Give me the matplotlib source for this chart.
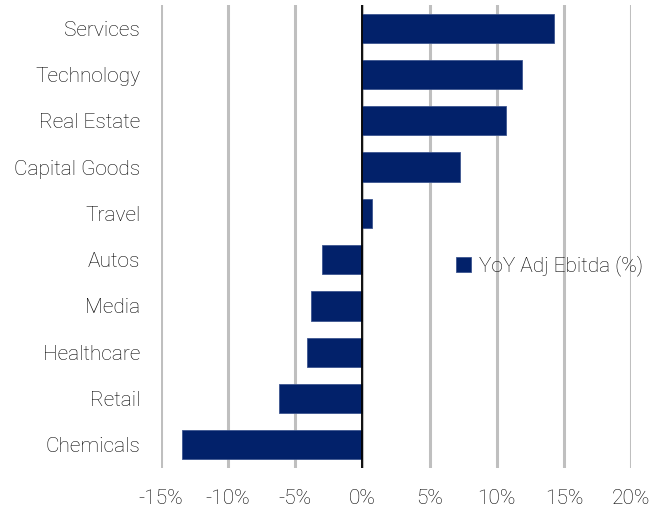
import matplotlib
matplotlib.use("Agg")
import matplotlib.pyplot as plt
from matplotlib.ticker import FuncFormatter

categories = ["Services", "Technology", "Real Estate", "Capital Goods", "Travel",
              "Autos", "Media", "Healthcare", "Retail", "Chemicals"]
values = [14.3, 11.85, 10.7, 7.3, 0.7, -3.0, -3.8, -4.15, -6.25, -13.4]
xticks = [-15, -10, -5, 0, 5, 10, 15, 20]
series_name = "YoY Adj Ebitda (%)"

plt.rcParams['font.family'] = ['Roboto', 'DejaVu Sans']
plt.rcParams['font.weight'] = 'light'

W, H = 665, 514
fig = plt.figure(figsize=(W / 100, H / 100), dpi=100)
ax = fig.add_axes([161 / W, 1 - 468 / H, (631 - 161) / W, (468 - 5) / H])

ypos = list(range(len(categories)))
ax.barh(ypos, values, height=0.63, color='#02216a', edgecolor='#3d5590',
        linewidth=0.6, label=series_name, zorder=3)
ax.set_ylim(len(categories) - 0.5, -0.5)
ax.set_xlim(-15, 20)
ax.set_xticks(xticks)
ax.xaxis.set_major_formatter(FuncFormatter(lambda v, p: f"{v:.0f}%"))
ax.set_yticks(ypos)
ax.set_yticklabels(categories)

ax.grid(axis='x', color='#bfbfbf', linewidth=2.2, zorder=0)
ax.grid(axis='y', visible=False)
for s in ax.spines.values():
    s.set_visible(False)
ax.axvline(0, color='black', linewidth=1.3, zorder=4)
ax.tick_params(axis='both', length=0, labelsize=15, colors='#000000')
ax.tick_params(axis='y', pad=15)
ax.tick_params(axis='x', pad=15)

leg = ax.legend(loc='center left', bbox_to_anchor=(448 / W, 1 - 266 / H),
                bbox_transform=fig.transFigure, frameon=False, fontsize=15,
                handlelength=0.7, handleheight=0.7, handletextpad=0.4,
                borderaxespad=0)
for t in leg.get_texts():
    t.set_color('#000000')

fig.savefig("out.png", dpi=100)
